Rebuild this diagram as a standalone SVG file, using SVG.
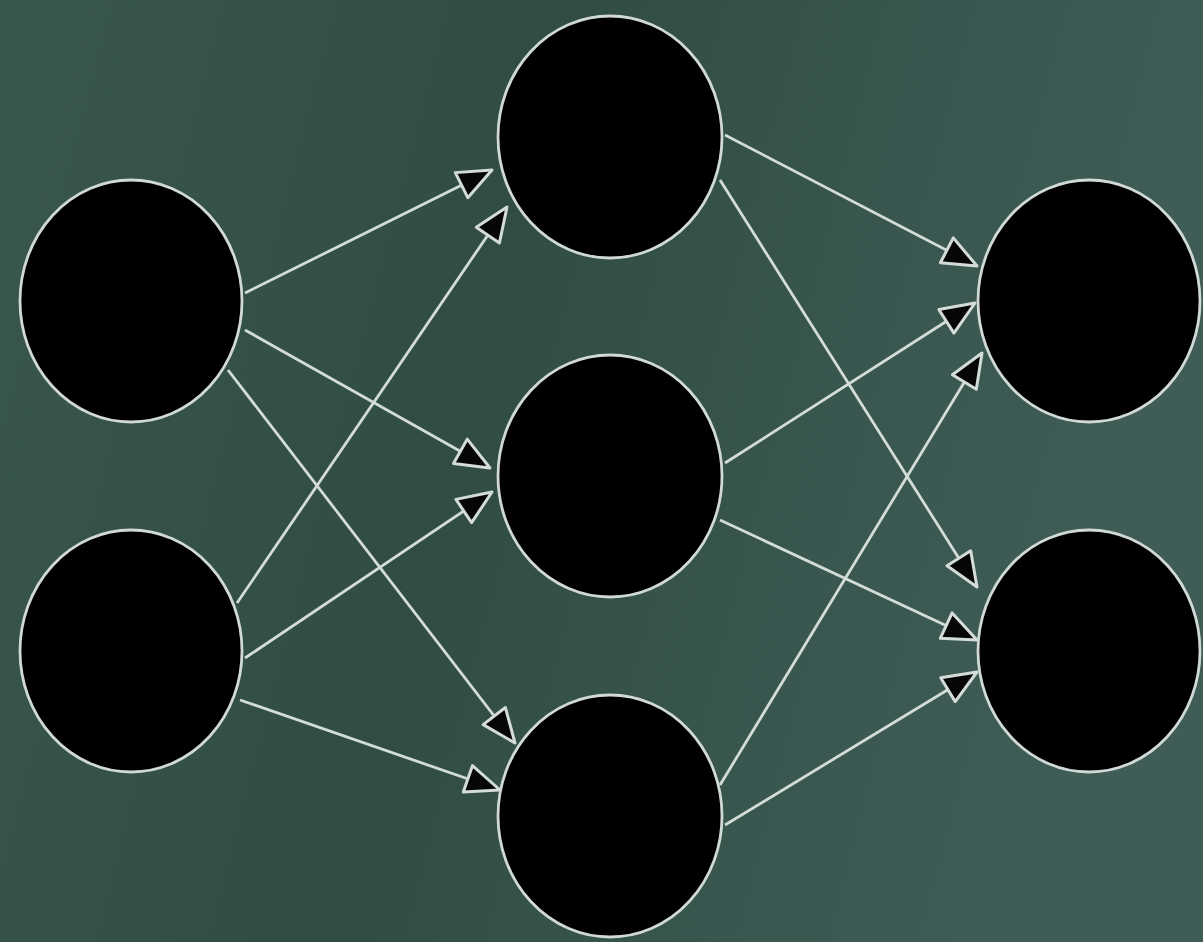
<svg xmlns="http://www.w3.org/2000/svg" width="1203" height="942" viewBox="0 0 1203 942">
<defs>
<linearGradient id="bg" x1="0" y1="0" x2="1" y2="0.2">
<stop offset="0" stop-color="#3a574f"/>
<stop offset="0.45" stop-color="#304c45"/>
<stop offset="1" stop-color="#3f5d56"/>
</linearGradient>
<marker id="arr" viewBox="0 0 40 34" refX="37" refY="17" markerWidth="40" markerHeight="34" markerUnits="userSpaceOnUse" orient="auto">
<path d="M3,3 L37,17 L3,31 Z" fill="#060606" stroke="#d3dcd8" stroke-width="3" stroke-linejoin="round"/>
</marker>
<style>
.n{fill:#000;stroke:#d0d9d5;stroke-width:2.8}
.e{stroke:#d3dcd8;stroke-width:2.8;fill:none;marker-end:url(#arr)}
</style>
</defs>
<rect width="1203" height="942" fill="url(#bg)"/>
<g id="connectors">
<line class="e" x1="245" y1="293" x2="492" y2="170"/>
<line class="e" x1="245" y1="330" x2="490" y2="468"/>
<line class="e" x1="228" y1="370" x2="515" y2="743"/>
<line class="e" x1="237" y1="603" x2="507" y2="207"/>
<line class="e" x1="245" y1="658" x2="492" y2="492"/>
<line class="e" x1="240" y1="700" x2="500" y2="790"/>
<line class="e" x1="725" y1="135" x2="977" y2="266"/>
<line class="e" x1="720" y1="180" x2="977" y2="587"/>
<line class="e" x1="725" y1="463" x2="975" y2="303"/>
<line class="e" x1="720" y1="520" x2="977" y2="640"/>
<line class="e" x1="720" y1="785" x2="982" y2="353"/>
<line class="e" x1="725" y1="825" x2="977" y2="672"/>
</g>
<g id="in1"><ellipse class="n" cx="131" cy="301" rx="111" ry="121"/></g>
<g id="in2"><ellipse class="n" cx="131" cy="651" rx="111" ry="121"/></g>
<g id="h1"><ellipse class="n" cx="610" cy="137" rx="112" ry="121"/></g>
<g id="h2"><ellipse class="n" cx="610" cy="476" rx="112" ry="121"/></g>
<g id="h3"><ellipse class="n" cx="610" cy="816" rx="112" ry="121"/></g>
<g id="out1"><ellipse class="n" cx="1089" cy="301" rx="111" ry="121"/></g>
<g id="out2"><ellipse class="n" cx="1089" cy="651" rx="111" ry="121"/></g>
</svg>
